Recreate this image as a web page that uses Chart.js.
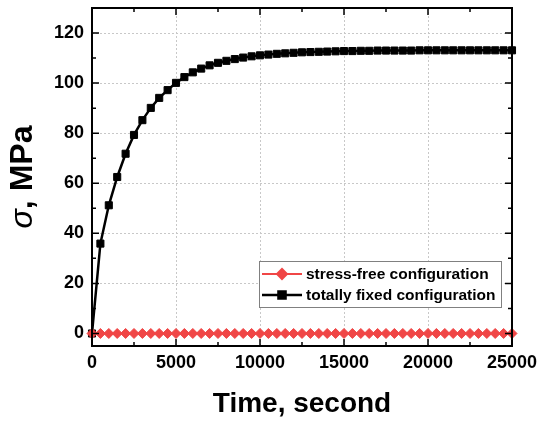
<!DOCTYPE html>
<html>
<head>
<meta charset="utf-8">
<title>Stress vs time</title>
<script src="https://cdn.jsdelivr.net/npm/chart.js@4/dist/chart.umd.min.js"></script>
<style>
    body { margin: 0; background: #fff; }
    #chart { display: block; }
</style>
</head>
<body>
<canvas id="chart" width="541" height="425"></canvas>
<script>
// time, s (one sample every 500 s)
const timeSec = [
    0, 500, 1000, 1500, 2000, 2500, 3000, 3500, 4000, 4500,
    5000, 5500, 6000, 6500, 7000, 7500, 8000, 8500, 9000, 9500,
    10000, 10500, 11000, 11500, 12000, 12500, 13000, 13500, 14000, 14500,
    15000, 15500, 16000, 16500, 17000, 17500, 18000, 18500, 19000, 19500,
    20000, 20500, 21000, 21500, 22000, 22500, 23000, 23500, 24000, 24500,
    25000
];

// sigma, MPa
const stressFree = [
    0, 0, 0, 0, 0, 0, 0, 0, 0, 0,
    0, 0, 0, 0, 0, 0, 0, 0, 0, 0,
    0, 0, 0, 0, 0, 0, 0, 0, 0, 0,
    0, 0, 0, 0, 0, 0, 0, 0, 0, 0,
    0, 0, 0, 0, 0, 0, 0, 0, 0, 0,
    0
];
const totallyFixed = [
    0, 35.9, 51.2, 62.5, 71.8, 79.3, 85.2, 90.1, 94.1, 97.2,
    100.1, 102.4, 104.3, 105.8, 107.1, 108.1, 108.9, 109.6, 110.2, 110.7,
    111.1, 111.4, 111.7, 111.9, 112.1, 112.3, 112.4, 112.5, 112.6, 112.7,
    112.8, 112.8, 112.9, 112.9, 113.0, 113.0, 113.0, 113.0, 113.0, 113.1,
    113.1, 113.1, 113.1, 113.1, 113.1, 113.1, 113.1, 113.1, 113.1, 113.1,
    113.1
];

const seriesNames = ['stress-free configuration', 'totally fixed configuration'];

const xTicks = [0, 5000, 10000, 15000, 20000, 25000];
const xMinorTicks = [2500, 7500, 12500, 17500, 22500];
const yTicks = [0, 20, 40, 60, 80, 100, 120];
const yMinorTicks = [10, 30, 50, 70, 90, 110, 130];

const FONT = "'Liberation Sans', Arial, sans-serif";
const RED = 'rgb(240, 70, 70)';

function toPoints(ys) {
    return timeSec.map((t, i) => ({ x: t, y: ys[i] }));
}

// frame, inward ticks, y title and the boxed legend
const framePlugin = {
    id: 'frame',
    afterDraw(chart) {
        const ctx = chart.ctx;
        const area = chart.chartArea;
        const xs = chart.scales.x;
        const ys = chart.scales.y;

        ctx.save();
        ctx.strokeStyle = '#000';
        ctx.lineWidth = 1.5;
        ctx.beginPath();
        const tick = (vals, len) => {
            vals.forEach(v => {
                const px = xs.getPixelForValue(v);
                ctx.moveTo(px, area.bottom); ctx.lineTo(px, area.bottom - len);
                ctx.moveTo(px, area.top); ctx.lineTo(px, area.top + len);
            });
        };
        const tickY = (vals, len) => {
            vals.forEach(v => {
                const py = ys.getPixelForValue(v);
                ctx.moveTo(area.left, py); ctx.lineTo(area.left + len, py);
                ctx.moveTo(area.right, py); ctx.lineTo(area.right - len, py);
            });
        };
        tick(xTicks, 7);
        tick(xMinorTicks, 4);
        tickY(yTicks, 7);
        tickY(yMinorTicks, 4);
        ctx.stroke();

        ctx.lineWidth = 2;
        ctx.strokeRect(area.left, area.top, area.right - area.left, area.bottom - area.top);

        // y title: italic sigma + ", MPa"
        ctx.translate(23, (area.top + area.bottom) / 2);
        ctx.rotate(-Math.PI / 2);
        ctx.fillStyle = '#000';
        ctx.textBaseline = 'middle';
        ctx.font = 'italic 32px ' + FONT;
        const sig = 'σ';
        const rest = ', MPa';
        const w1 = ctx.measureText(sig).width;
        ctx.font = 'bold 32px ' + FONT;
        const w2 = ctx.measureText(rest).width;
        let x0 = -(w1 + w2) / 2;
        ctx.font = 'italic 32px ' + FONT;
        ctx.fillText(sig, x0, 0);
        ctx.font = 'bold 32px ' + FONT;
        ctx.fillText(rest, x0 + w1, 0);
        ctx.restore();

        // legend
        ctx.save();
        const lx = 259.5, ly = 261.5, lw = 242, lh = 46;
        ctx.fillStyle = '#fff';
        ctx.fillRect(lx, ly, lw, lh);
        ctx.strokeStyle = '#808080';
        ctx.lineWidth = 1;
        ctx.strokeRect(lx, ly, lw, lh);
        ctx.font = 'bold 15.5px ' + FONT;
        ctx.textBaseline = 'middle';
        chart.data.datasets.forEach((ds, i) => {
            const rowY = 274 + i * 21;
            ctx.strokeStyle = ds.borderColor;
            ctx.lineWidth = ds.borderWidth;
            ctx.beginPath();
            ctx.moveTo(262, rowY);
            ctx.lineTo(302, rowY);
            ctx.stroke();
            ctx.fillStyle = ds.pointBackgroundColor;
            ctx.strokeStyle = ds.pointBorderColor;
            Chart.helpers.drawPoint(ctx, {
                pointStyle: ds.pointStyle,
                radius: ds.pointRadius,
                borderWidth: 1,
                rotation: 0
            }, 282, rowY);
            ctx.fillStyle = '#000';
            ctx.fillText(ds.label, 306, rowY + 1);
        });
        ctx.restore();
    }
};

new Chart(document.getElementById('chart'), {
    type: 'line',
    data: {
        datasets: [
            {
                label: seriesNames[0],
                data: toPoints(stressFree),
                borderColor: RED,
                borderWidth: 2,
                pointStyle: 'rectRot',
                pointRadius: 5,
                pointBackgroundColor: RED,
                pointBorderColor: RED,
                pointBorderWidth: 1,
                tension: 0,
                clip: false,
                order: 1
            },
            {
                label: seriesNames[1],
                data: toPoints(totallyFixed),
                borderColor: '#000',
                borderWidth: 2.5,
                pointStyle: 'rect',
                pointRadius: 5,
                pointBackgroundColor: '#000',
                pointBorderColor: '#000',
                pointBorderWidth: 1,
                tension: 0,
                clip: false,
                order: 2
            }
        ]
    },
    options: {
        responsive: false,
        animation: false,
        devicePixelRatio: 1,
        layout: { padding: { top: 8, right: 29, left: 0, bottom: 0 } },
        plugins: {
            legend: { display: false },
            tooltip: { enabled: false }
        },
        scales: {
            x: {
                type: 'linear',
                min: 0,
                max: 25000,
                afterFit: s => { s.height = 79; s.paddingLeft = 0; s.paddingRight = 0; },
                afterBuildTicks: s => { s.ticks = xTicks.map(v => ({ value: v })); },
                grid: { color: '#c8c8c8', lineWidth: 1, drawTicks: false },
                border: { display: false, dash: [2, 2] },
                ticks: {
                    color: '#000',
                    padding: 6,
                    maxRotation: 0,
                    font: { family: FONT, size: 18, weight: 'bold' },
                    callback: v => String(v)
                },
                title: {
                    display: true,
                    text: 'Time, second',
                    color: '#000',
                    font: { family: FONT, size: 28, weight: 'bold' },
                    padding: { top: 13 }
                }
            },
            y: {
                type: 'linear',
                min: -5,
                max: 130,
                afterFit: s => { s.width = 92; s.paddingTop = 0; s.paddingBottom = 0; },
                afterBuildTicks: s => { s.ticks = yTicks.map(v => ({ value: v })); },
                grid: { color: '#c8c8c8', lineWidth: 1, drawTicks: false },
                border: { display: false, dash: [2, 2] },
                ticks: {
                    color: '#000',
                    padding: 8,
                    font: { family: FONT, size: 18, weight: 'bold' }
                }
            }
        }
    },
    plugins: [framePlugin]
});
</script>
</body>
</html>
